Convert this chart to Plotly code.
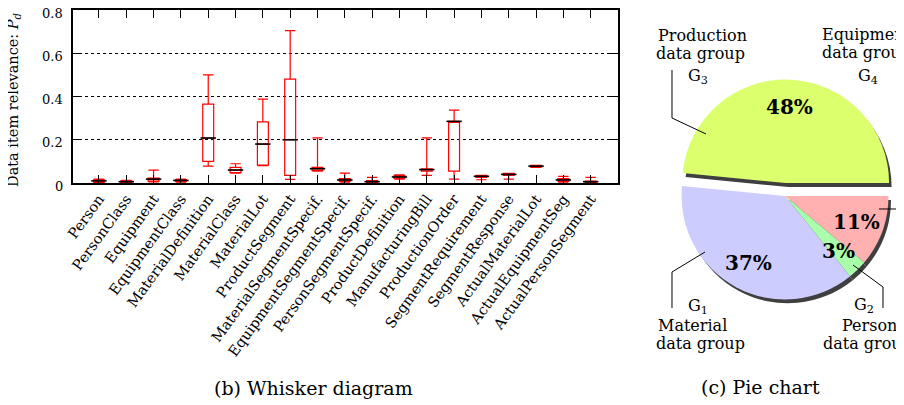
import math
import plotly.graph_objects as go

# ---------------- data ----------------
categories = ["Person", "PersonClass", "Equipment", "EquipmentClass", "MaterialDefinition",
              "MaterialClass", "MaterialLot", "ProductSegment", "MaterialSegmentSpecif.",
              "EquipmentSegmentSpecif.", "PersonSegmentSpecif.", "ProductDefinition",
              "ManufacturingBill", "ProductionOrder", "SegmentRequirement", "SegmentResponse",
              "ActualMaterialLot", "ActualEquipmentSeg", "ActualPersonSegment"]
lower_fence = [0.000, 0.000, 0.005, 0.004, 0.078, 0.045, 0.080, 0.017, 0.055, 0.004,
               0.000, 0.018, 0.035, 0.018, 0.015, 0.018, 0.072, 0.004, 0.000]
q1_vals = [0.004, 0.002, 0.009, 0.007, 0.100, 0.048, 0.083, 0.035, 0.058, 0.008,
           0.002, 0.022, 0.055, 0.055, 0.026, 0.035, 0.073, 0.008, 0.002]
median_vals = [0.010, 0.006, 0.018, 0.012, 0.208, 0.060, 0.180, 0.200, 0.066, 0.014,
               0.006, 0.028, 0.062, 0.285, 0.031, 0.040, 0.078, 0.014, 0.006]
q3_vals = [0.014, 0.010, 0.023, 0.015, 0.365, 0.072, 0.283, 0.480, 0.072, 0.020,
           0.011, 0.034, 0.066, 0.285, 0.035, 0.045, 0.082, 0.020, 0.009]
upper_fence = [0.018, 0.012, 0.060, 0.018, 0.500, 0.089, 0.388, 0.705, 0.209, 0.046,
               0.026, 0.038, 0.209, 0.337, 0.035, 0.045, 0.082, 0.031, 0.026]
y_tick_vals = [0, 0.2, 0.4, 0.6, 0.8]
y_tick_text = ["0", "0.2", "0.4", "0.6", "0.8"]

pie_groups = ["3", "4", "2", "1"]
pie_names = ["Production", "Equipment", "Personal", "Material"]
pie_values = [48, 11, 3, 37]
pie_pull = [0.126, 0, 0, 0]

# ---------------- styles / layout helpers ----------------
OFF = 8                       # page body margin of the html page
W, H = 904 - OFF, 405 - OFF   # figure size so that it fills the window exactly
SERIF = "DejaVu Serif"
pie_colors = ["#dcff6e", "#ffb0b0", "#aaffaa", "#ccccff"]
shadow_color = "#3f3f3f"


def PX(x):
    return (x - OFF) / W


def PY(y):
    return 1 - (y - OFF) / H


x_pos = list(range(len(categories)))

fig = go.Figure()

fig.add_trace(go.Box(
    x=x_pos, q1=q1_vals, median=median_vals, q3=q3_vals,
    lowerfence=lower_fence, upperfence=upper_fence,
    width=0.4, whiskerwidth=0.95, boxpoints=False,
    line=dict(color="#ff0000", width=1.2),
    fillcolor="rgba(0,0,0,0)", hoverinfo="skip", showlegend=False,
    xaxis="x", yaxis="y"))

fig.add_trace(go.Scatter(
    x=x_pos, y=median_vals, mode="markers",
    marker=dict(symbol="line-ew", size=11, line=dict(color="black", width=1.6)),
    hoverinfo="skip", showlegend=False, xaxis="x", yaxis="y"))

# ---------------- pie ----------------
pie_cx, pie_cy, pie_half = 785.0, 196.0, 116.5
sh_dx, sh_dy = 3.0, 4.0
dom_x = [PX(pie_cx - pie_half), PX(pie_cx + pie_half)]
dom_y = [PY(pie_cy + pie_half), PY(pie_cy - pie_half)]
sh_x = [PX(pie_cx - pie_half + sh_dx), min(1.0, PX(pie_cx + pie_half + sh_dx))]
sh_y = [PY(pie_cy + pie_half + sh_dy), PY(pie_cy - pie_half + sh_dy)]
rotation = -84.5

fig.add_trace(go.Pie(
    values=pie_values, labels=pie_groups, sort=False, direction="clockwise",
    rotation=rotation, pull=pie_pull,
    marker=dict(colors=[shadow_color] * len(pie_values), line=dict(width=0)),
    textinfo="none", hoverinfo="skip", showlegend=False,
    domain=dict(x=sh_x, y=sh_y)))

fig.add_trace(go.Pie(
    values=pie_values, labels=pie_groups, sort=False, direction="clockwise",
    rotation=rotation, pull=pie_pull,
    marker=dict(colors=pie_colors, line=dict(width=0)),
    textinfo="none", hoverinfo="skip", showlegend=False,
    domain=dict(x=dom_x, y=dom_y)))

annotations = []
# percentage labels placed along each slice bisector
r_pie = pie_half / (1 + max(pie_pull))
total = float(sum(pie_values))
cum = 0.0
for v, p in zip(pie_values, pie_pull):
    mid = math.radians(rotation + (cum + v / 2.0) / total * 360.0)
    cum += v
    rr = (0.74 + p) * r_pie
    px = pie_cx + rr * math.sin(mid)
    py = pie_cy - rr * math.cos(mid)
    annotations.append(dict(x=PX(px), y=PY(py), xref="paper", yref="paper",
                            text="<b>%d%%</b>" % v, showarrow=False,
                            font=dict(family=SERIF, size=20, color="black"),
                            xanchor="center", yanchor="middle"))


def txt(s, x, y, size=16, anchor="center"):
    annotations.append(dict(x=PX(x), y=PY(y), xref="paper", yref="paper", text=s,
                            showarrow=False, font=dict(family=SERIF, size=size, color="black"),
                            xanchor=anchor, yanchor="middle"))


# group labels
txt(pie_names[0], 702, 35)
txt("data group", 700, 53)
txt("G<sub>%s</sub>" % pie_groups[0], 698, 76)
txt(pie_names[1], 820, 34, anchor="left")
txt("data group", 820, 52, anchor="left")
txt("G<sub>%s</sub>" % pie_groups[1], 868, 76)
txt("G<sub>%s</sub>" % pie_groups[3], 698, 306)
txt(pie_names[3], 692, 325)
txt("data group", 700, 343)
txt("G<sub>%s</sub>" % pie_groups[2], 864, 305)
txt(pie_names[2], 840, 325, anchor="left")
txt("data group", 821, 343, anchor="left")

# captions
txt("(b) Whisker diagram", 313, 388, size=19)
txt("(c) Pie chart", 760, 387, size=19)

# y tick labels (as text placed on the y scale, slightly below each tick as in the original)
for v, t in zip(y_tick_vals, y_tick_text):
    annotations.append(dict(x=PX(65), y=v, xref="paper", yref="y", text=t,
                            showarrow=False, yshift=-3,
                            font=dict(family=SERIF, size=13, color="black"),
                            xanchor="right", yanchor="middle"))

# y-axis title
annotations.append(dict(x=PX(14), y=PY(100), xref="paper", yref="paper",
                        text="Data item relevance: <i>P</i><sub><i>d</i></sub>",
                        textangle=-90, showarrow=False,
                        font=dict(family=SERIF, size=14.5, color="black"),
                        xanchor="center", yanchor="middle"))

# leader lines
shapes = []


def leader(points):
    path = "M " + " L ".join("%f,%f" % (PX(a), PY(b)) for a, b in points)
    shapes.append(dict(type="path", path=path, xref="paper", yref="paper",
                       line=dict(color="black", width=1)))


leader([(672, 70), (672, 118), (706, 134)])
leader([(672, 308), (672, 272), (705, 252)])
leader([(883, 308), (883, 287), (853, 265)])
leader([(879, 209), (904, 209)])

fig.update_layout(
    width=W, height=H, margin=dict(l=0, r=0, t=0, b=0),
    paper_bgcolor="white", plot_bgcolor="white", template="none",
    showlegend=False, annotations=annotations, shapes=shapes,
    xaxis=dict(domain=[PX(73), PX(618)], range=[-0.95, 19.0],
               tickmode="array", tickvals=x_pos, ticktext=categories,
               tickangle=-54, ticks="inside", ticklen=8, tickwidth=1, tickcolor="black",
               showline=True, linecolor="black", linewidth=1.5, mirror="ticks",
               showgrid=False, zeroline=False, automargin=False,
               tickfont=dict(family=SERIF, size=14.5, color="black")),
    yaxis=dict(domain=[PY(183), PY(10)], range=[0, 0.8],
               tickmode="array", tickvals=y_tick_vals, showticklabels=False,
               ticks="inside", ticklen=8, tickwidth=1, tickcolor="black",
               showline=True, linecolor="black", linewidth=1.5, mirror="ticks",
               showgrid=True, gridcolor="black", griddash="dot", gridwidth=1,
               zeroline=False, automargin=False),
)

fig.write_html("out.html")
